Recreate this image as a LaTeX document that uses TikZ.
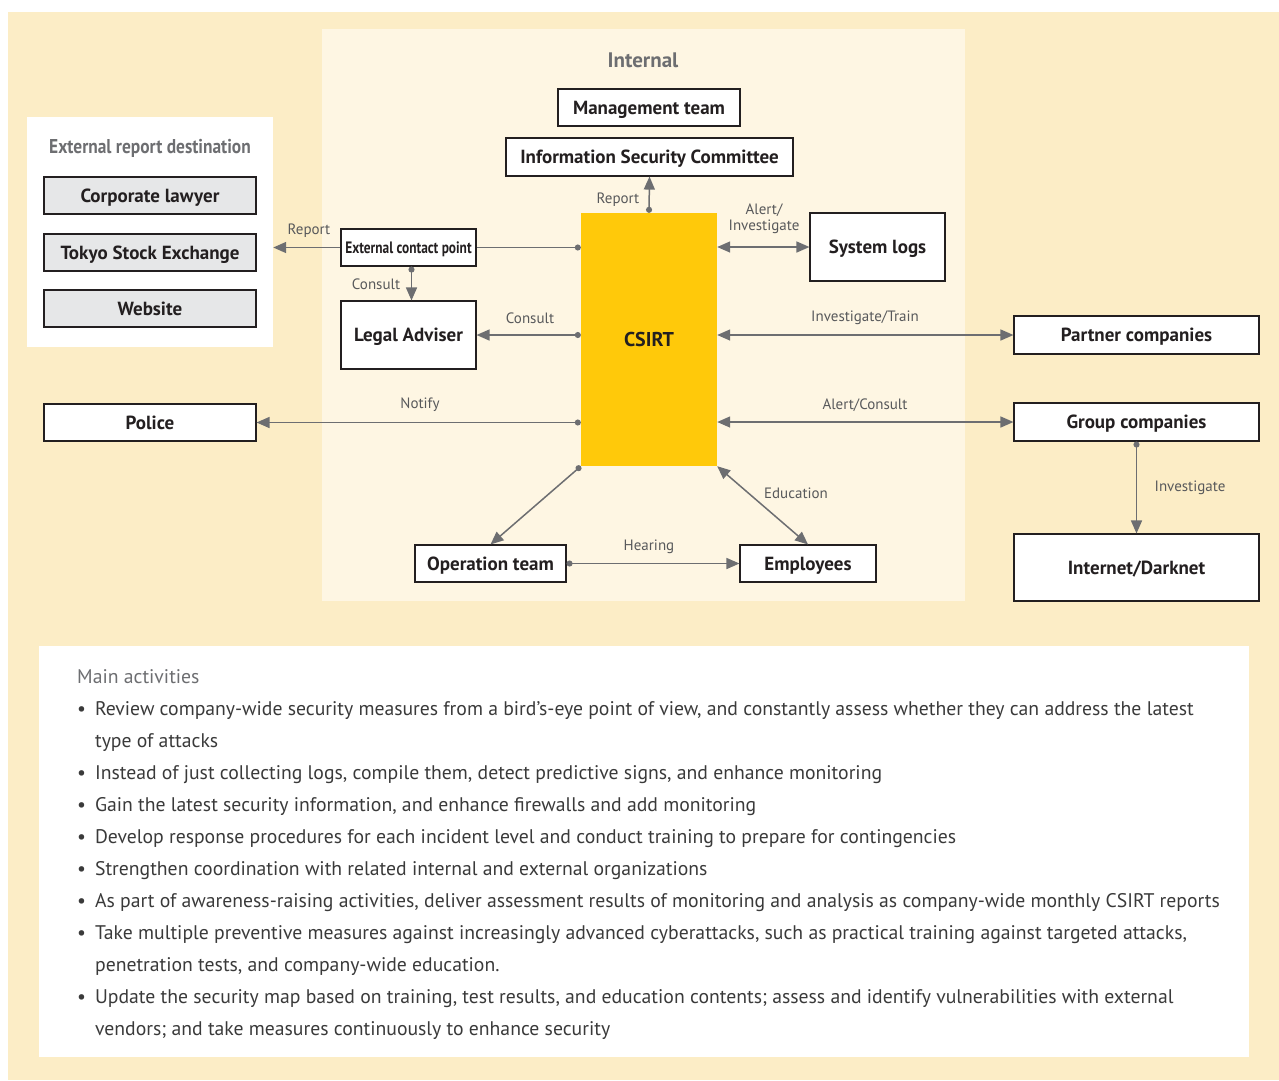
\documentclass[tikz,border=0pt]{standalone}
\usepackage{fontspec}
\setmainfont{PT Sans}
\usetikzlibrary{arrows.meta}

\definecolor{outerbg}{HTML}{FCEDC6}
\definecolor{innerbg}{HTML}{FEF6E3}
\definecolor{csirtyellow}{HTML}{FFC90A}
\definecolor{destgray}{HTML}{E6E7E8}
\definecolor{boxline}{HTML}{231F20}
\definecolor{ink}{HTML}{231F20}
\definecolor{arrowgray}{HTML}{6D6E71}
\definecolor{labelgray}{HTML}{58595B}
\definecolor{bodytext}{HTML}{3A3A3A}

\tikzset{
  unit/.style={draw=boxline, line width=1.1pt, fill=white, text=ink,
    font=\bfseries\fontsize{19}{22}\selectfont, inner sep=0pt,
    text height=13.5pt, text depth=0pt},
  dest/.style={unit, fill=destgray},
  link/.style={draw=arrowgray, line width=1.5pt,
    -{Triangle[length=13pt,width=11pt]}},
  dotlink/.style={link, {Circle[length=6pt]}-{Triangle[length=13pt,width=11pt]}},
  bothway/.style={link, {Triangle[length=13pt,width=11pt]}-{Triangle[length=13pt,width=11pt]}},
  tag/.style={font=\fontsize{15}{16}\selectfont, text=labelgray, inner sep=0pt, align=center},
}

\begin{document}
\begin{tikzpicture}[x=1pt,y=-1pt]
  \useasboundingbox (0,0) rectangle (1279,1080);

  % Backgrounds
  \fill[outerbg] (8,12) rectangle (1279,1080);
  \fill[innerbg] (322,29) rectangle (965,601);
  \node[fill=white, minimum width=246pt, minimum height=230pt, inner sep=0pt]
    (extbox) at (150,232) {};
  \node[fill=white, minimum width=1210pt, minimum height=411pt, inner sep=0pt]
    (actbox) at (644,851.5) {};

  % Titles
  \node[font=\bfseries\fontsize{21}{24}\selectfont, text=arrowgray] (internal) at (643,60) {Internal};
  \node[font=\bfseries\fontsize{20}{24}\selectfont, text=arrowgray] (exttitle) at (150,148)
    {\scalebox{0.87}[1]{External report destination}};

  % External report destination
  \node[dest, minimum width=212pt, minimum height=37pt] (lawyer) at (150,195.5) {Corporate lawyer};
  \node[dest, minimum width=212pt, minimum height=37pt] (tse) at (150,252.5) {Tokyo Stock Exchange};
  \node[dest, minimum width=212pt, minimum height=37pt] (website) at (150,308.5) {Website};

  % Internal units
  \node[unit, minimum width=182pt, minimum height=37pt] (mgmt) at (649,107.5) {Management team};
  \node[unit, minimum width=287pt, minimum height=38pt] (isc) at (649.5,157) {Information Security Committee};
  \node[fill=csirtyellow, minimum width=136pt, minimum height=253pt, inner sep=0pt, text=ink,
    font=\bfseries\fontsize{20}{22}\selectfont] (csirt) at (649,339.5) {CSIRT};
  \node[unit, minimum width=135pt, minimum height=37pt, text height=11.5pt] (ecp) at (408.5,247.5)
    {\fontsize{16.5}{18}\selectfont\scalebox{0.81}[1]{External contact point}};
  \node[unit, minimum width=135pt, minimum height=68pt] (legal) at (408.5,335) {Legal Adviser};
  \node[unit, minimum width=135pt, minimum height=68pt] (syslogs) at (877.5,247) {System logs};
  \node[unit, minimum width=151pt, minimum height=37pt] (opteam) at (490.5,563.5) {Operation team};
  \node[unit, minimum width=136pt, minimum height=37pt] (employees) at (808,563.5) {Employees};

  % Outside units
  \node[unit, minimum width=212pt, minimum height=37pt] (police) at (150,422.5) {Police};
  \node[unit, minimum width=245pt, minimum height=38pt] (partner) at (1136.5,335) {Partner companies};
  \node[unit, minimum width=245pt, minimum height=38pt] (group) at (1136.5,422) {Group companies};
  \node[unit, minimum width=245pt, minimum height=67pt] (darknet) at (1136.5,567.5) {Internet/Darknet};

  % Connectors
  \draw[dotlink] (csirt.north) -- (isc.south);
  \draw[draw=arrowgray, line width=1.5pt, {Circle[length=6pt]}-] (csirt.west |- ecp.east) -- (ecp.east);
  \draw[link] (ecp.west) -- (extbox.east |- ecp.west);
  \draw[dotlink] ([xshift=3pt]ecp.south) -- ([xshift=3pt]legal.north);
  \draw[dotlink] (csirt.west |- legal.east) -- (legal.east);
  \draw[bothway] (csirt.east |- syslogs.west) -- (syslogs.west);
  \draw[bothway] (csirt.east |- partner.west) -- (partner.west);
  \draw[dotlink] (csirt.west |- police.east) -- (police.east);
  \draw[bothway] (csirt.east |- group.west) -- (group.west);
  \draw[dotlink] (group.south) -- (darknet.north);
  \draw[dotlink] (csirt.south west) -- (opteam.north);
  \draw[bothway] (csirt.south east) -- (employees.north);
  \draw[dotlink] (opteam.east) -- (employees.west);

  % Connector labels
  \node[tag] (lblreport) at (618,200) {Report};
  \node[tag] (lblextreport) at (309,231) {Report};
  \node[tag] (lblconsulta) at (376,284) {Consult};
  \node[tag] (lblconsultb) at (530,318) {Consult};
  \node[tag] (lblalert) at (764,219) {Alert/\\Investigate};
  \node[tag] (lbltrain) at (865,318) {Investigate/Train};
  \node[tag] (lblnotify) at (420,405) {Notify};
  \node[tag] (lblconsultc) at (865,405) {Alert/Consult};
  \node[tag] (lblinvest) at (1190,488) {Investigate};
  \node[tag] (lbleducation) at (796,493) {Education};
  \node[tag] (lblhearing) at (649,547) {Hearing};

  % Main activities
  \node[anchor=north west, align=left, inner sep=0pt, text=bodytext,
    font=\fontsize{19.7}{32}\selectfont] (activities) at (77,669) {%
    {\color{arrowgray}Main activities}\\
    \textbullet\hspace{9pt}Review company-wide security measures from a bird's-eye point of view, and constantly assess whether they can address the latest\\
    \phantom{\textbullet\hspace{9pt}}type of attacks\\
    \textbullet\hspace{9pt}Instead of just collecting logs, compile them, detect predictive signs, and enhance monitoring\\
    \textbullet\hspace{9pt}Gain the latest security information, and enhance firewalls and add monitoring\\
    \textbullet\hspace{9pt}Develop response procedures for each incident level and conduct training to prepare for contingencies\\
    \textbullet\hspace{9pt}Strengthen coordination with related internal and external organizations\\
    \textbullet\hspace{9pt}As part of awareness-raising activities, deliver assessment results of monitoring and analysis as company-wide monthly CSIRT reports\\
    \textbullet\hspace{9pt}Take multiple preventive measures against increasingly advanced cyberattacks, such as practical training against targeted attacks,\\
    \phantom{\textbullet\hspace{9pt}}penetration tests, and company-wide education.\\
    \textbullet\hspace{9pt}Update the security map based on training, test results, and education contents; assess and identify vulnerabilities with external\\
    \phantom{\textbullet\hspace{9pt}}vendors; and take measures continuously to enhance security};
\end{tikzpicture}
\end{document}
